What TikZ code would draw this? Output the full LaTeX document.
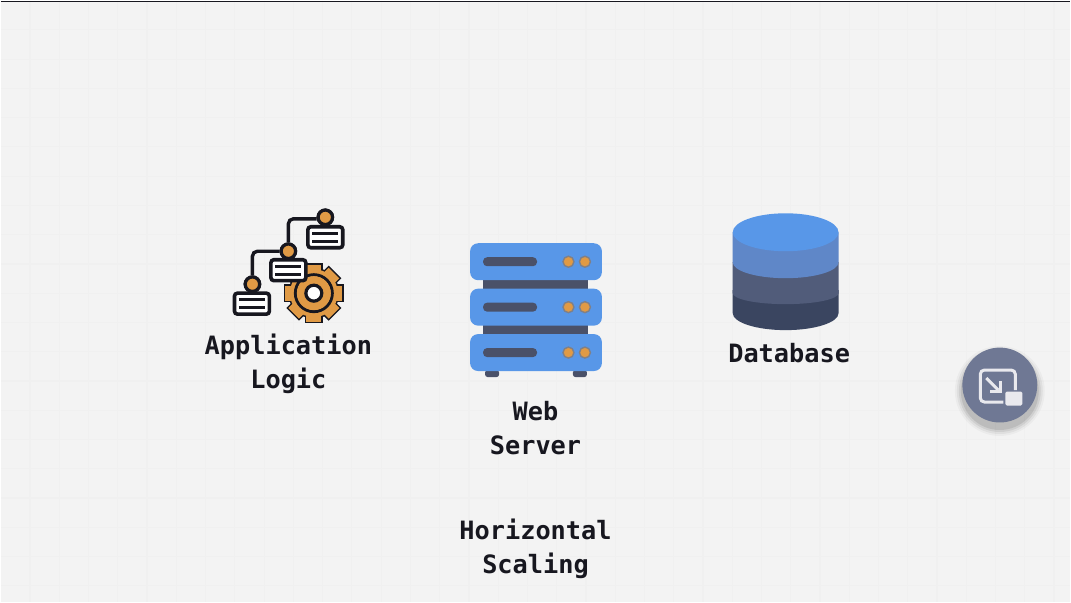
\documentclass[tikz,border=0pt]{standalone}
\usepackage{fontspec}
\setmonofont{DejaVu Sans Mono}
\usetikzlibrary{calc}

\definecolor{pageGray}{HTML}{F3F3F3}
\definecolor{gridGray}{HTML}{F0F0F0}
\definecolor{inkDark}{HTML}{17171F}
\definecolor{gearOrange}{HTML}{E09A45}
\definecolor{rackBlue}{HTML}{5897E8}
\definecolor{rackDark}{HTML}{4A5169}
\definecolor{ledRim}{HTML}{7F8088}
\definecolor{buttonSlate}{HTML}{6F7894}
\definecolor{buttonIcon}{HTML}{E9E9EE}

\begin{document}
\begin{tikzpicture}
[x=1pt,y=-1pt,
  diagramLabel/.style={font=\ttfamily\bfseries\fontsize{25.3}{33.5}\selectfont,
    text=inkDark,align=center,inner sep=0pt},
  logicBox/.style={draw=inkDark,line width=3.6pt,fill=white,rounded corners=3pt,
    minimum width=35pt,minimum height=21pt,inner sep=0pt},
  logicDot/.style={circle,draw=inkDark,line width=3.2pt,fill=gearOrange,
    minimum size=14.5pt,inner sep=0pt},
  logicLine/.style={draw=inkDark,line width=3.4pt,rounded corners=5pt},
  logicBar/.style={draw=inkDark,line width=2.8pt},
  rackBox/.style={fill=rackBlue,rounded corners=8pt,minimum width=132pt,
    minimum height=37pt,inner sep=0pt},
  rackLink/.style={fill=rackDark,minimum width=105pt,minimum height=10pt,inner sep=0pt},
  rackFoot/.style={fill=rackDark,rounded corners=2.5pt,minimum width=14pt,
    minimum height=7pt,inner sep=0pt},
  rackSlot/.style={fill=rackDark,rounded corners=4pt,minimum width=54pt,
    minimum height=9pt,inner sep=0pt},
  rackLed/.style={circle,draw=ledRim,line width=1.4pt,fill=gearOrange,
    minimum size=11pt,inner sep=0pt}]

% page and faint grid
\fill[pageGray] (0,0) rectangle (1071,602);
\foreach \gridPos in {1,...,36}
{
  \draw[gridGray,line width=1.2pt] ({29.3*\gridPos},0) -- ({29.3*\gridPos},602);
}
\foreach \gridPos in {1,...,20}
{
  \draw[gridGray,line width=1.2pt] (0,{29.3*\gridPos}) -- (1071,{29.3*\gridPos});
}
\draw[inkDark,line width=1.6pt] (0,1) -- (1071,1);
\useasboundingbox (0,0) rectangle (1071,602);

% gear
\foreach \toothAngle in {0,45,...,315}
{
  \fill[inkDark,rotate around={\toothAngle:(313.5,293)}]
    (304.5,263) rectangle (322.5,280);
}
\fill[inkDark] (313.5,293) circle (25.5pt);
\foreach \toothAngle in {0,45,...,315}
{
  \fill[gearOrange,rotate around={\toothAngle:(313.5,293)}]
    (306,264.5) rectangle (321,280);
}
\fill[gearOrange] (313.5,293) circle (24pt);
\draw[inkDark,line width=3pt] (313.5,293) circle (18.5pt);
\fill[gearOrange] (313.5,293) circle (17pt);
\draw[inkDark,line width=3.2pt,fill=white] (313.5,293) circle (8pt);

% application logic
\node[logicDot] (topDot) at (325,217) {};
\node[logicDot] (midDot) at (288,251) {};
\node[logicDot] (lowDot) at (252,284) {};
\draw[logicLine] (topDot.190) -| (midDot);
\draw[logicLine] (midDot) -| (lowDot);
\node[logicDot] at (topDot) {};
\node[logicDot] at (midDot) {};
\node[logicDot] at (lowDot) {};
\node[logicBox] (topBox) at (325,237) {};
\node[logicBox] (midBox) at (288,270) {};
\node[logicBox] (lowBox) at (251.5,303.5) {};
\foreach \boxName in {topBox,midBox,lowBox}
{
  \draw[logicBar] ($(\boxName)+(-13,-4)$) -- ($(\boxName)+(13,-4)$);
  \draw[logicBar] ($(\boxName)+(-13,4)$) -- ($(\boxName)+(13,4)$);
}
\node[diagramLabel] (logicLabel) at (288,364) {Application\\Logic};

% web server
\node[rackLink] (linkA) at (535.5,285) {};
\node[rackLink] (linkB) at (535.5,330) {};
\node[rackFoot] (footA) at (492,373.5) {};
\node[rackFoot] (footB) at (580,373.5) {};
\foreach \rackName/\rackY in {rackA/261.5,rackB/307,rackC/352.5}
{
  \node[rackBox] (\rackName) at (536,\rackY) {};
  \node[rackSlot] (\rackName Slot) at (510,\rackY) {};
  \node[rackLed] (\rackName LedA) at (568.5,\rackY) {};
  \node[rackLed] (\rackName LedB) at (585,\rackY) {};
}
\node[diagramLabel] (serverLabel) at (535.5,428) {Web\\Server};

% database
\foreach \bandTop/\bandEnd/\bandBow/\bandColor in {
  290/313/17/3A4560, 262/293/11/515C7A, 232/262/16/5F87C8}
{
  \definecolor{bandFill}{HTML}{\bandColor}
  \fill[bandFill] (733,\bandTop) -- (733,\bandEnd)
    arc[start angle=180,end angle=360,x radius=53pt,y radius=\bandBow pt]
    -- (839,\bandTop) -- cycle;
}
\fill[rackBlue] (786,232) ellipse (53pt and 19pt);
\node[diagramLabel] (databaseLabel) at (789.5,353) {Database};

% caption
\node[diagramLabel] (scalingLabel) at (535.5,549) {Horizontal\\Scaling};

% floating button
\foreach \haloSize/\haloShade in {45/0.03,43/0.05,41/0.07,39/0.09}
{
  \fill[black,opacity=\haloShade] (1000.5,391) circle (\haloSize pt);
}
\node[circle,fill=buttonSlate,minimum size=75pt,inner sep=0pt] (fabButton) at (1000.5,385) {};
\draw[buttonIcon,line width=3pt,rounded corners=4pt]
  (1004,402) -- (981,402) -- (981,370) -- (1016,370) -- (1016,390);
\node[fill=buttonIcon,rounded corners=1.5pt,minimum width=17pt,minimum height=14pt,
  inner sep=0pt] (fabSquare) at (1014.5,398.5) {};
\coordinate (fabFrom) at (987,378);
\coordinate (fabTo) at (999,390);
\draw[buttonIcon,line width=3pt] (fabFrom) -- (fabTo);
\draw[buttonIcon,line width=2.6pt] (1001,381) -- (1001,391.5) -- (990.5,391.5);
\end{tikzpicture}
\end{document}
